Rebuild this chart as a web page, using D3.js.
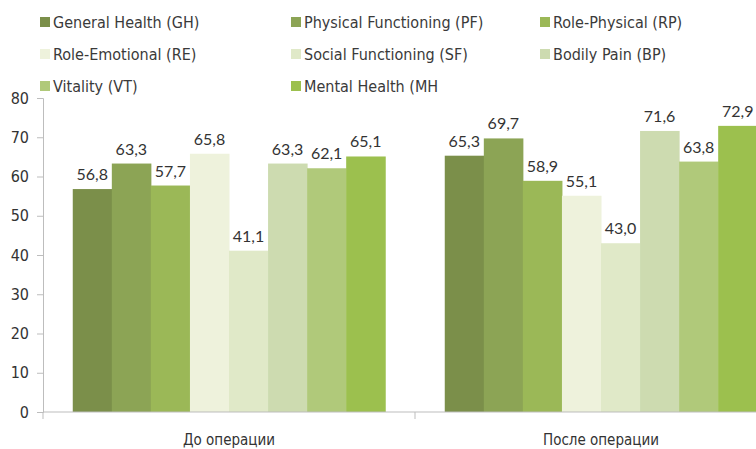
<!DOCTYPE html>
<html>
<head>
<meta charset="utf-8">
<script src="https://cdn.jsdelivr.net/npm/d3@7"></script>
<style>
  body { margin: 0; background: #fff; overflow: hidden; }
  svg { display: block; }
  .legend text { font-family: "Liberation Sans Narrow", "DejaVu Sans Condensed", sans-serif; font-size: 16px; fill: #3a3a3a; }
  .yaxis text { font-family: "Liberation Sans Narrow", "DejaVu Sans Condensed", sans-serif; font-size: 16px; fill: #333; }
  .xlabel { font-family: "Liberation Sans Narrow", "DejaVu Sans Condensed", sans-serif; font-size: 15px; fill: #333; }
  .val { font-family: Lato, "Open Sans", sans-serif; font-size: 16px; fill: #333; }
</style>
</head>
<body>
<div id="chart"></div>
<script>
// data
var groups = ["До операции", "После операции"];
var series = ["General Health (GH)", "Physical Functioning (PF)", "Role-Physical (RP)",
              "Role-Emotional (RE)", "Social Functioning (SF)", "Bodily Pain (BP)",
              "Vitality (VT)", "Mental Health (MH"];
var before = [56.8, 63.3, 57.7, 65.8, 41.1, 63.3, 62.1, 65.1];
var after  = [65.3, 69.7, 58.9, 55.1, 43.0, 71.6, 63.8, 72.9];
var yTicks = [0, 10, 20, 30, 40, 50, 60, 70, 80];

var colors = ["#7b8f4a", "#8ca455", "#9bb857", "#eef2dc", "#e0e9c8", "#cddbb0", "#b0c97a", "#9cc04e"];

var W = 756, H = 449;
var svg = d3.select("#chart").append("svg")
  .attr("width", W)
  .attr("height", H);

var values = [before, after];

var x0 = d3.scaleBand()
  .domain(groups)
  .range([43, 787])
  .paddingInner(0.16)
  .paddingOuter(0.08);

var x1 = d3.scaleBand()
  .domain(series)
  .range([0, x0.bandwidth()]);

var y = d3.scaleLinear()
  .domain([0, 80])
  .range([412, 98]);

var color = d3.scaleOrdinal().domain(series).range(colors);

// bars
var g = svg.selectAll("g.grp")
  .data(groups)
  .enter()
  .append("g")
  .attr("class", "grp")
  .attr("transform", function(d){ return "translate(" + x0(d) + ",0)"; });

g.selectAll("rect")
  .data(function(d, i){ return series.map(function(s, j){ return {s: s, v: values[i][j]}; }); })
  .enter()
  .append("rect")
    .attr("x", function(d){ return x1(d.s); })
    .attr("y", function(d){ return y(d.v); })
    .attr("width", x1.bandwidth() + 0.5)
    .attr("height", function(d){ return y(0) - y(d.v); })
    .attr("fill", function(d){ return color(d.s); });

g.selectAll("text")
  .data(function(d, i){ return series.map(function(s, j){ return {s: s, v: values[i][j]}; }); })
  .enter()
  .append("text")
    .attr("class", "val")
    .attr("x", function(d){ return x1(d.s) + x1.bandwidth() / 2; })
    .attr("y", function(d){ return y(d.v) - 9; })
    .attr("text-anchor", "middle")
    .text(function(d){ return d.v.toFixed(1).replace(".", ","); });

// y axis
var yAxis = svg.append("g")
  .attr("class", "yaxis")
  .attr("transform", "translate(43,0)")
  .call(d3.axisLeft(y).tickValues(yTicks).tickSize(6).tickPadding(8));
yAxis.selectAll("line, path").attr("stroke", "#bdbdbd");

// x axis (baseline with ticks between groups)
var xb = svg.append("g");
xb.append("line")
  .attr("x1", 43).attr("x2", 787)
  .attr("y1", y(0)).attr("y2", y(0))
  .attr("stroke", "#bdbdbd");
xb.selectAll("line.tk")
  .data(groups)
  .enter()
  .append("line")
  .attr("class", "tk")
  .attr("x1", function(d){ return x0(d) - x0.step() * x0.paddingInner() / 2 + (d === groups[0] ? 0 : 0); })
  .attr("x2", function(d){ return x0(d) - x0.step() * x0.paddingInner() / 2; })
  .attr("y1", y(0)).attr("y2", y(0) + 7)
  .attr("stroke", "#bdbdbd");

xb.selectAll("text")
  .data(groups)
  .enter()
  .append("text")
  .attr("class", "xlabel")
  .attr("x", function(d){ return x0(d) + x0.bandwidth() / 2; })
  .attr("y", 445)
  .attr("text-anchor", "middle")
  .text(function(d){ return d; });

// legend
var legX = [40, 291, 540];
var legY = [22, 54, 86];
var leg = svg.append("g").attr("class", "legend")
  .selectAll("g")
  .data(series)
  .enter()
  .append("g")
  .attr("transform", function(d, i){ return "translate(" + legX[i % 3] + "," + legY[Math.floor(i / 3)] + ")"; });

leg.append("rect")
  .attr("x", 0).attr("y", -5)
  .attr("width", 10).attr("height", 10)
  .attr("fill", function(d){ return color(d); });

leg.append("text")
  .attr("x", 13)
  .attr("y", 5.5)
  .text(function(d){ return d; });
</script>
</body>
</html>
